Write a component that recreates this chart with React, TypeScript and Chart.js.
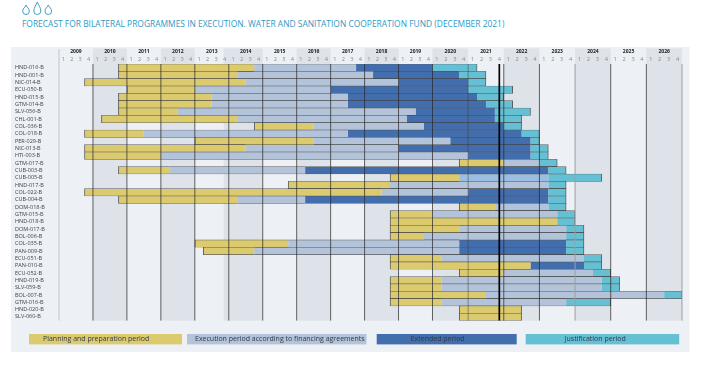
import React, { useEffect, useRef } from "react";
import { Chart, LinearScale, registerables } from "chart.js";

// All period values are quarter indexes: 0 = start of Q1 2009, 4 = start of 2010, ... 72 = end of 2026.
const projects = ["HND-016-B","HND-001-B","NIC-014-B","ECU-050-B","HND-015-B","GTM-014-B","SLV-056-B","CHL-001-B","COL-036-B","COL-018-B","PER-029-B","NIC-013-B","HTI-003-B","GTM-017-B","CUB-003-B","CUB-005-B","HND-017-B","COL-022-B","CUB-004-B","DOM-018-B","GTM-015-B","HND-018-B","DOM-017-B","BOL-006-B","COL-035-B","PAN-009-B","ECU-051-B","PAN-010-B","ECU-052-B","HND-019-B","SLV-059-B","BOL-007-B","GTM-016-B","HND-020-B","SLV-060-B"];
const planningStart = [7,7,3,8,7,7,7,5,23,3,16,3,3,47,7,39,27,3,7,47,39,39,39,39,16,17,39,39,47,39,39,39,39,47,47];
const planningEnd = [23,21,22,16,18,18,14,21,30,10,30,22,12,52,13,47,39,38,21,51,44,58,47,43,27,23,45,55,52,45,45,50,45,54,54];
const executionEnd = [35,37,40,32,34,34,42,41,43,34,46,40,48,56,29,57,57,48,29,57,58,null,59,59,47,47,61,null,62,63,63,70,59,null,null];
const extendedEnd = [44,47,48,48,49,50,51,51,52,54,55,55,55,null,57,null,null,57,57,null,null,null,null,null,59,59,null,61,null,null,null,null,null,null,null];
const justificationEnd = [49,50,50,53,52,53,55,54,54,56,56,57,57,58,59,63,59,59,59,59,60,60,61,61,61,61,63,63,64,65,65,72,64,null,null];
const lightExecutionProjects = ["CUB-005-B"];

const yearLabels = ["2009","2010","2011","2012","2013","2014","2015","2016","2017","2018","2019","2020","2021","2022","2023","2024","2025","2026"];
const quarterLabels = ["1","2","3","4"];
const periodNames = ["Planning and preparation period","Execution period according to financing agreements","Extended period","Justification period"];
const shadedSpans = [[4,8],[12,16],[19.4,24],[28,32],[36,40],[44,48],[52,56],[60,64],[68,72]];
const forecastDate = 51.5;

const COLORS = ["#DCCB6E", "#B3C3D9", "#426EAE", "#66C0D4"];
const LIGHT_EXEC = "#9CBEE3";
const OUTLINE = "rgba(45,45,45,0.72)";
const FONT = "'Open Sans'";

// The source's time axis is slightly wider from 2020 onward, so it has two linear stretches.
const BREAK_VALUE = 44;
const BREAK_POS = 0.5995;
class PiecewiseScale extends LinearScale {
  static id = "piecewise";
  static defaults = LinearScale.defaults;
  getPixelForValue(v: number) {
    if (v === null || v === undefined) return NaN;
    const d = v <= BREAK_VALUE
      ? (v / BREAK_VALUE) * BREAK_POS
      : BREAK_POS + ((v - BREAK_VALUE) / (72 - BREAK_VALUE)) * (1 - BREAK_POS);
    return this.getPixelForDecimal(d);
  }
}
Chart.register(...registerables, PiecewiseScale);

const stages = [planningEnd, executionEnd, extendedEnd, justificationEnd];
function segments(stage: number) {
  return projects.map((_, i) => {
    const end = stages[stage][i];
    if (end === null) return null;
    let start: number = planningStart[i];
    for (let s = stage - 1; s >= 0; s--) {
      const prev = stages[s][i];
      if (prev !== null) { start = prev; break; }
    }
    return [start, end];
  });
}
function isLast(stage: number, i: number) {
  for (let s = stage + 1; s < stages.length; s++) if (stages[s][i] !== null) return false;
  return true;
}

const backdrop = {
  id: "backdrop",
  beforeDraw(chart: any) {
    const { ctx, chartArea: a, scales } = chart;
    const x = scales.x;
    ctx.save();
    ctx.fillStyle = "#EDF0F4";
    ctx.fillRect(11, 47, 678.5, 305);
    ctx.fillStyle = "#DEE2E9";
    shadedSpans.forEach(([f, t]) => {
      const l = x.getPixelForValue(f), r = x.getPixelForValue(t);
      ctx.fillRect(l, 48.5, r - l, a.bottom - 48.5);
    });
    ctx.restore();
  },
};

const overlay = {
  id: "overlay",
  afterDatasetsDraw(chart: any) {
    const { ctx, chartArea: a, scales } = chart;
    const x = scales.x;
    ctx.save();
    yearLabels.forEach((_, i) => {
      const px = x.getPixelForValue(i * 4);
      ctx.beginPath();
      ctx.moveTo(px, i === 0 ? 49 : a.top);
      ctx.lineTo(px, a.bottom);
      const year = i + 2009;
      ctx.lineWidth = year === 2009 || year === 2024 ? 1 : 0.9;
      ctx.strokeStyle = year === 2009 ? "#C2C5CA" : year === 2024 ? "#9B9EA3" : year === 2021 ? "rgba(60,60,60,0.55)" : "rgba(40,40,40,0.8)";
      ctx.stroke();
    });
    const end = x.getPixelForValue(72);
    ctx.beginPath(); ctx.moveTo(end, a.top); ctx.lineTo(end, a.bottom);
    ctx.lineWidth = 1; ctx.strokeStyle = "#9B9EA3"; ctx.stroke();
    const now = x.getPixelForValue(forecastDate);
    ctx.beginPath(); ctx.moveTo(now, a.top); ctx.lineTo(now, a.bottom);
    ctx.lineWidth = 1.7; ctx.strokeStyle = "#000"; ctx.stroke();
    ctx.restore();
  },
};

const LEGEND_BOXES = [[29, 153, 43], [187, 179.5, 195], [376.7, 140, 410.7], [525.7, 153.5, 564.7]];
const boxLegend = {
  id: "boxLegend",
  afterDraw(chart: any) {
    const { ctx } = chart;
    ctx.save();
    ctx.textAlign = "left";
    ctx.textBaseline = "middle";
    ctx.font = `7px ${FONT}`;
    chart.data.datasets.forEach((d: any, i: number) => {
      const [l, w, tx] = LEGEND_BOXES[i];
      ctx.fillStyle = COLORS[i];
      ctx.fillRect(l, 334, w, 10.4);
      ctx.fillStyle = "#2F3A4A";
      ctx.fillText(d.label, tx, 339.2);
    });
    ctx.restore();
  },
};

export default function App() {
  const ref = useRef<HTMLCanvasElement>(null);
  useEffect(() => {
    const datasets = periodNames.map((label, stage) => ({
      label,
      data: segments(stage),
      backgroundColor: (c: any) =>
        stage === 1 && lightExecutionProjects.includes(projects[c.dataIndex]) ? LIGHT_EXEC : COLORS[stage],
      borderColor: OUTLINE,
      borderSkipped: false,
      borderWidth: (c: any) => ({
        top: 0.6,
        bottom: 0.6,
        left: stage === 0 ? 1 : 0,
        right: isLast(stage, c.dataIndex) ? 1 : 0,
      }),
      barPercentage: 1,
      categoryPercentage: 1,
      grouped: false,
    }));
    const chart = new Chart(ref.current!, {
      type: "bar",
      data: { labels: projects, datasets } as any,
      plugins: [backdrop, overlay, boxLegend],
      options: {
        indexAxis: "y",
        responsive: false,
        animation: false,
        layout: { padding: { left: 15, right: 28, top: 48, bottom: 54.4 } },
        plugins: { legend: { display: false }, title: { display: false }, tooltip: { enabled: false } },
        scales: {
          x: {
            type: "piecewise", axis: "x", position: "top", min: 0, max: 72, weight: 0,
            grid: { display: false, drawTicks: false }, border: { display: false },
            afterBuildTicks: (s: any) => {
              s.ticks = [];
              for (let q = 0; q < 72; q++) s.ticks.push({ value: q + 0.5 });
            },
            afterFit: (s: any) => { s.height = 9; },
            ticks: {
              autoSkip: false, maxRotation: 0, minRotation: 0, padding: 1, color: "#8A8D92",
              font: { family: FONT, size: 5.6 },
              callback: (v: any) => quarterLabels[Math.floor(v) % 4],
            },
          },
          xYears: {
            type: "piecewise", axis: "x", position: "top", min: 0, max: 72, weight: 1,
            grid: { display: false, drawTicks: false }, border: { display: false },
            afterBuildTicks: (s: any) => { s.ticks = yearLabels.map((_, i) => ({ value: i * 4 + 2 })); },
            afterFit: (s: any) => { s.height = 7; },
            ticks: {
              autoSkip: false, maxRotation: 0, minRotation: 0, padding: 0, color: "#222",
              font: { family: FONT, size: 5, weight: "bold" },
              callback: (v: any) => yearLabels[Math.floor(v / 4)],
            },
          },
          y: {
            type: "category", position: "left", grid: { display: false, drawTicks: false }, border: { display: false },
            afterFit: (s: any) => { s.width = 44; },
            ticks: {
              autoSkip: false, crossAlign: "far", padding: 0, color: "#3C4250",
              font: { family: FONT, size: 5.5 },
            },
          },
        },
      } as any,
    });
    return () => chart.destroy();
  }, []);

  const drop = (cx: number, top: number, bottom: number, r: number) =>
    `M${cx} ${top} C${cx - 1} ${top + 3} ${cx - r} ${bottom - 2 * r} ${cx - r} ${bottom - r} A${r} ${r} 0 0 0 ${cx + r} ${bottom - r} C${cx + r} ${bottom - 2 * r} ${cx + 1} ${top + 3} ${cx} ${top} Z`;

  return (
    <div style={{ position: "absolute", left: 0, top: 0, width: 710, height: 375, background: "#fff" }}>
      <svg width={60} height={18} style={{ position: "absolute", left: 0, top: 0 }}>
        <path d={drop(26, 5, 14.5, 3.3)} fill="none" stroke="#3F9FC6" strokeWidth={1} />
        <path d={drop(37.3, 2, 14.5, 3.5)} fill="none" stroke="#3F9FC6" strokeWidth={1} />
        <path d={drop(48.3, 5, 14.5, 3.3)} fill="none" stroke="#3F9FC6" strokeWidth={1} />
      </svg>
      <div style={{ position: "absolute", left: 22, top: 18, whiteSpace: "nowrap", font: `8.43px/11px ${FONT}`, color: "#2E9AC4" }}>
        FORECAST FOR BILATERAL PROGRAMMES IN EXECUTION. WATER AND SANITATION COOPERATION FUND (DECEMBER 2021)
      </div>
      <canvas ref={ref} width={710} height={375} style={{ position: "absolute", left: 0, top: 0 }} />
    </div>
  );
}
